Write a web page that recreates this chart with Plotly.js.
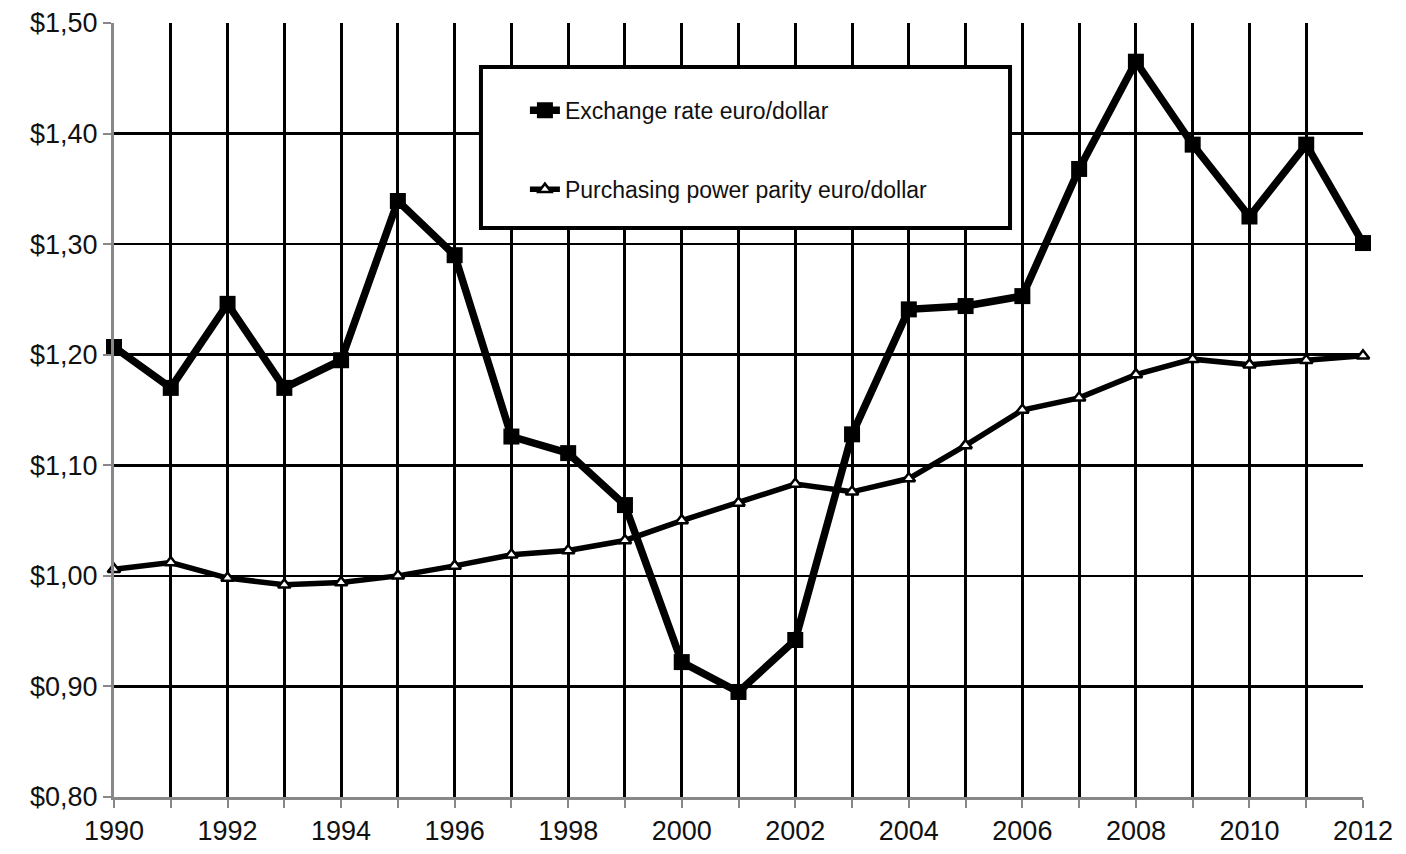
<!DOCTYPE html>
<html>
<head>
<meta charset="utf-8">
<script src="https://cdn.plot.ly/plotly-3.0.1.min.js"></script>
<style>html,body{margin:0;padding:0;background:#fff;}#chart{width:1406px;height:854px;}</style>
</head>
<body>
<div id="chart"></div>
<script>
const years = [1990,1991,1992,1993,1994,1995,1996,1997,1998,1999,2000,2001,2002,2003,2004,2005,2006,2007,2008,2009,2010,2011,2012];
const exchangeRate = [1.207,1.170,1.246,1.170,1.195,1.339,1.290,1.126,1.111,1.064,0.922,0.895,0.942,1.128,1.241,1.244,1.253,1.368,1.465,1.390,1.325,1.390,1.301];
const ppp = [1.006,1.012,0.998,0.992,0.994,1.000,1.009,1.019,1.023,1.032,1.050,1.066,1.083,1.076,1.088,1.118,1.150,1.161,1.182,1.196,1.191,1.195,1.199];
const seriesNames = ["Exchange rate euro/dollar","Purchasing power parity euro/dollar"];
const yTickVals = [0.8,0.9,1.0,1.1,1.2,1.3,1.4,1.5];
const yTickText = ["$0,80","$0,90","$1,00","$1,10","$1,20","$1,30","$1,40","$1,50"];
const xTickText = years.map(y => (y % 2 === 0 ? String(y) : ""));

const traces = [
  {
    x: years, y: exchangeRate, name: seriesNames[0], type: "scatter", mode: "lines+markers",
    line: {color: "#000", width: 7.5}, marker: {symbol: "square", size: 16, color: "#000"},
    cliponaxis: false, legendgroup: "a"
  },
  {
    x: years, y: ppp, name: seriesNames[1], type: "scatter", mode: "lines+markers",
    line: {color: "#000", width: 5.5}, marker: {symbol: "triangle-up", size: 11, color: "#fff", line: {color: "#000", width: 2.5}},
    cliponaxis: false, legendgroup: "b"
  }
];

const layout = {
  width: 1406, height: 854,
  margin: {l: 114, r: 43, t: 23, b: 57},
  paper_bgcolor: "#fff", plot_bgcolor: "#fff",
  font: {family: "Liberation Sans, Arial, sans-serif", color: "#111"},
  showlegend: true,
  legend: {
    x: 0.329, y: 0.915, xanchor: "left", yanchor: "top",
    bgcolor: "rgba(0,0,0,0)", borderwidth: 0,
    font: {size: 23, color: "#111"},
    traceorder: "grouped", tracegroupgap: 46, itemwidth: 30
  },
  xaxis: {
    range: [1990, 2012], tickvals: years, ticktext: xTickText,
    showgrid: true, gridcolor: "#000", gridwidth: 3,
    showline: true, linecolor: "#888", linewidth: 3,
    ticks: "outside", ticklen: 8, tickwidth: 2, tickcolor: "#888",
    tickfont: {size: 27, color: "#111"}, zeroline: false
  },
  yaxis: {
    range: [0.8, 1.5], tickvals: yTickVals, ticktext: yTickText,
    showgrid: true, gridcolor: "#000", gridwidth: 2.5,
    showline: true, linecolor: "#888", linewidth: 3,
    ticks: "outside", ticklen: 8, tickwidth: 2, tickcolor: "#888",
    tickfont: {size: 27, color: "#111"}, zeroline: false
  },
  shapes: [
    {type: "rect", xref: "paper", yref: "paper", x0: 0.2938, x1: 0.7174, y0: 0.7351, y1: 0.9432,
     fillcolor: "#fff", line: {color: "#000", width: 4}, layer: "above"}
  ]
};

Plotly.newPlot("chart", traces, layout, {displayModeBar: false, staticPlot: true});
</script>
</body>
</html>
